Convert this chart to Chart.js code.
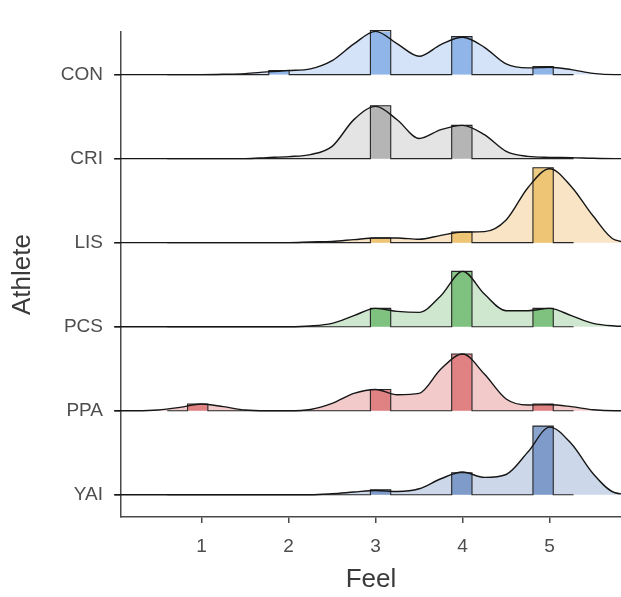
<!DOCTYPE html>
<html>
<head>
<meta charset="utf-8">
<script src="https://cdn.jsdelivr.net/npm/chart.js@4.4.0/dist/chart.umd.min.js"></script>
<style>
    html, body { margin: 0; padding: 0; background: #ffffff; }
    #wrap { width: 621px; height: 597px; }
</style>
</head>
<body>
<div id="wrap"><canvas id="ridgeChart" width="621" height="597"></canvas></div>
<script>
// Athletes, bottom row first (YAI sits at y = 1)
const athletes = ['YAI', 'PPA', 'PCS', 'LIS', 'CRI', 'CON'];

// Feel values where the density curves were read
const feelGrid = [0, 0.25, 0.5, 0.75, 1, 1.25, 1.5, 1.75, 2, 2.25, 2.5, 2.75, 3,
                  3.25, 3.5, 3.75, 4, 4.25, 4.5, 4.75, 5, 5.25, 5.5, 5.75, 6];

// Ridge heights (1 = one row) at each feelGrid value
const densCON = [0, 0, 0, 0, 0, 0.004, 0.012, 0.032, 0.048, 0.068, 0.166, 0.365, 0.515, 0.365, 0.218, 0.357, 0.444, 0.325, 0.127, 0.080, 0.087, 0.059, 0.015, 0, 0];
const densCRI = [0, 0, 0, 0, 0, 0, 0, 0.012, 0.024, 0.048, 0.146, 0.464, 0.622, 0.46, 0.24, 0.345, 0.396, 0.285, 0.087, 0.027, 0.015, 0.012, 0.004, 0, 0];
const densLIS = [0, 0, 0, 0, 0, 0, 0, 0, 0, 0.008, 0.015, 0.036, 0.056, 0.056, 0.04, 0.087, 0.127, 0.131, 0.270, 0.654, 0.880, 0.666, 0.317, 0.032, 0];
const densPCS = [0, 0, 0, 0, 0, 0, 0, 0, 0, 0.008, 0.039, 0.131, 0.218, 0.182, 0.170, 0.369, 0.658, 0.389, 0.190, 0.190, 0.218, 0.131, 0.039, 0.008, 0];
const densPPA = [0, 0, 0.008, 0.039, 0.080, 0.048, 0.008, 0, 0, 0.015, 0.087, 0.206, 0.253, 0.190, 0.206, 0.496, 0.674, 0.436, 0.139, 0.068, 0.071, 0.048, 0.012, 0, 0];
const densYAI = [0, 0, 0, 0, 0, 0, 0, 0, 0, 0, 0.012, 0.032, 0.051, 0.039, 0.071, 0.190, 0.270, 0.206, 0.241, 0.508, 0.805, 0.606, 0.250, 0.024, 0];

// Histogram bar heights for each feel rating
const ratings = [1, 2, 3, 4, 5];
const histCON = [0, 0.048, 0.523, 0.452, 0.095];
const histCRI = [0, 0, 0.630, 0.396, 0];
const histLIS = [0, 0, 0.056, 0.127, 0.892];
const histPCS = [0, 0, 0.218, 0.658, 0.218];
const histPPA = [0.080, 0, 0.253, 0.674, 0.080];
const histYAI = [0, 0, 0.059, 0.262, 0.817];

// histogram bins
const binStart = 0.605;
const binWidth = 0.2335;
const binCount = 20;

const rows = {
    CON: { dens: densCON, hist: histCON, fill: '#d4e3f7', bar: 'rgba(120, 165, 228, 0.75)' },
    CRI: { dens: densCRI, hist: histCRI, fill: '#e4e4e4', bar: 'rgba(165, 165, 165, 0.75)' },
    LIS: { dens: densLIS, hist: histLIS, fill: '#f9e5c6', bar: 'rgba(232, 185, 90, 0.75)' },
    PCS: { dens: densPCS, hist: histPCS, fill: '#cfe7cf', bar: 'rgba(100, 180, 100, 0.75)' },
    PPA: { dens: densPPA, hist: histPPA, fill: '#f3caca', bar: 'rgba(218, 105, 108, 0.75)' },
    YAI: { dens: densYAI, hist: histYAI, fill: '#ccd8e9', bar: 'rgba(100, 135, 190, 0.75)' }
};

function histPoints(hist, k) {
    const pts = [];
    for (let b = 0; b < binCount; b++) {
        let h = 0;
        ratings.forEach(function(r, j) {
            if (Math.floor((r - binStart) / binWidth) === b) h = hist[j];
        });
        pts.push({ x: binStart + b * binWidth, y: k + h });
    }
    pts.push({ x: binStart + binCount * binWidth, y: k });
    return pts;
}

const datasets = [];
// top row first so lower rows paint over it
for (let i = athletes.length - 1; i >= 0; i--) {
    const name = athletes[i];
    const k = i + 1;
    const row = rows[name];
    const densPts = feelGrid.map(function(x, j) { return { x: x, y: k + row.dens[j] }; });

    datasets.push({
        label: name + ' density fill',
        data: densPts,
        borderWidth: 0,
        pointRadius: 0,
        cubicInterpolationMode: 'monotone',
        backgroundColor: row.fill,
        fill: { value: k },
        clip: false
    });
    datasets.push({
        label: name + ' histogram',
        data: histPoints(row.hist, k),
        stepped: 'before',
        borderWidth: 1.1,
        borderColor: '#262626',
        pointRadius: 0,
        backgroundColor: row.bar,
        fill: { value: k },
        clip: false
    });
    datasets.push({
        label: name + ' density',
        data: densPts,
        borderWidth: 1.4,
        borderColor: '#161616',
        pointRadius: 0,
        cubicInterpolationMode: 'monotone',
        fill: false,
        clip: false
    });
}
// draw in push order
datasets.forEach(function(ds, i) { ds.order = datasets.length - i; });

const axisColor = '#4a4a4a';
const tickFont = { family: 'Liberation Sans, Arial, sans-serif', size: 19 };
const titleFont = { family: 'Liberation Sans, Arial, sans-serif', size: 26 };

const ctx = document.getElementById('ridgeChart');
const ridgeChart = new Chart(ctx, {
    type: 'line',
    data: { datasets: datasets },
    options: {
        responsive: false,
        animation: false,
        layout: { padding: { top: 32, right: 0, left: 0, bottom: 0 } },
        plugins: {
            legend: { display: false },
            tooltip: { enabled: false }
        },
        scales: {
            x: {
                type: 'linear',
                min: 0.0736,
                max: 5.82,
                afterBuildTicks: function(scale) {
                    scale.ticks = ratings.map(function(v) { return { value: v }; });
                },
                afterFit: function(scale) { scale.height = 80; },
                grid: { display: true, drawOnChartArea: false, drawTicks: true, tickLength: 6, color: axisColor, lineWidth: 1.5 },
                border: { display: true, color: axisColor, width: 1.5 },
                ticks: { color: '#4d4d4d', font: tickFont, padding: 12, maxRotation: 0 },
                title: { display: true, text: 'Feel', color: '#3a3a3a', font: titleFont, padding: { top: 0, bottom: 2 } }
            },
            y: {
                type: 'linear',
                min: 0.735,
                max: 6.507,
                afterBuildTicks: function(scale) {
                    scale.ticks = athletes.map(function(a, i) { return { value: i + 1 }; });
                },
                afterFit: function(scale) { scale.width = 121; },
                grid: { display: true, drawOnChartArea: false, drawTicks: true, tickLength: 7, color: axisColor, lineWidth: 1.5 },
                border: { display: true, color: axisColor, width: 1.5 },
                ticks: {
                    color: '#4d4d4d',
                    font: tickFont,
                    padding: 11,
                    callback: function(value) { return athletes[value - 1]; }
                },
                title: { display: true, text: 'Athlete', color: '#3a3a3a', font: titleFont, padding: { top: 7, bottom: 0 } }
            }
        }
    }
});
</script>
</body>
</html>
